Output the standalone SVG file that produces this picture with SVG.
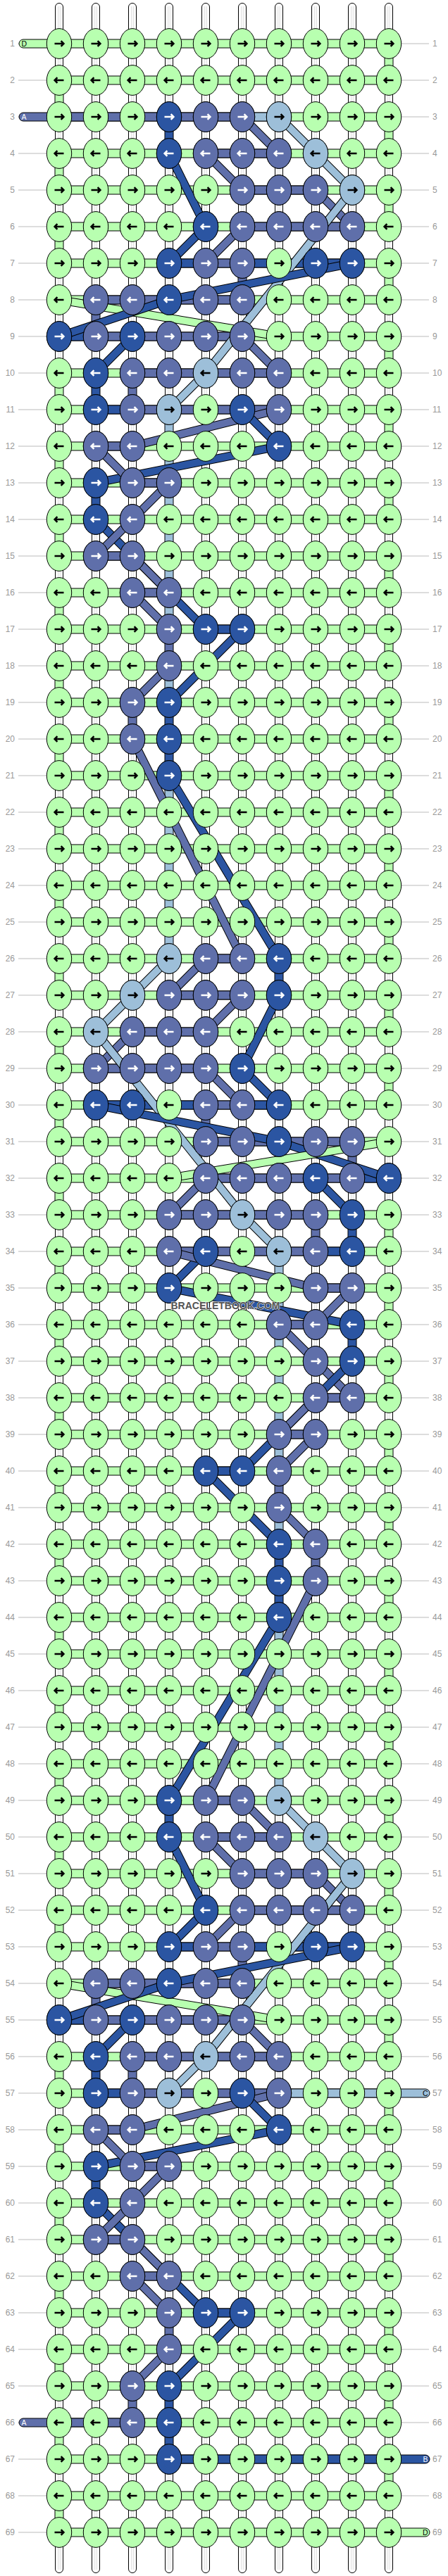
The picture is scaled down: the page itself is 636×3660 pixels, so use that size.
<svg xmlns="http://www.w3.org/2000/svg" width="636" height="3660" viewBox="0 0 636 3660">
<style>
.g{fill:#b8ffb0}.d{fill:#2b55a2}.m{fill:#5f6faa}.l{fill:#9dbfd9}
.o{stroke:#000;stroke-width:1}
.t{font-family:"Liberation Sans",Arial,sans-serif;font-size:12px;fill:#999}
.lb{font-family:"Liberation Sans",Arial,sans-serif;font-size:10.5px}
.k{fill:none;stroke:#000;stroke-width:12;stroke-linejoin:round}
.kd,.km,.kl,.kg{fill:none;stroke-width:10;stroke-linejoin:round}
.kd{stroke:#2b55a2}.km{stroke:#5f6faa}.kl{stroke:#9dbfd9}.kg{stroke:#b8ffb0}
</style>
<defs>
<ellipse id="e" rx="17.7" ry="21.4" stroke="#000" stroke-width="1"/>
<path id="a" d="M-6.5,0H6M2.6,-3.8L6.4,0L2.6,3.8" fill="none" stroke-width="2.5"/>
<path id="b" d="M6.5,0H-6M-2.6,-3.8L-6.4,0L-2.6,3.8" fill="none" stroke-width="2.5"/>
<g id="gR"><use href="#e" class="g"/><use href="#a" stroke="#000"/></g>
<g id="gL"><use href="#e" class="g"/><use href="#b" stroke="#000"/></g>
<g id="dR"><use href="#e" class="d"/><use href="#a" stroke="#fff"/></g>
<g id="dL"><use href="#e" class="d"/><use href="#b" stroke="#fff"/></g>
<g id="mR"><use href="#e" class="m"/><use href="#a" stroke="#fff"/></g>
<g id="mL"><use href="#e" class="m"/><use href="#b" stroke="#fff"/></g>
<g id="lR"><use href="#e" class="l"/><use href="#a" stroke="#000"/></g>
<g id="lL"><use href="#e" class="l"/><use href="#b" stroke="#000"/></g>
<g id="RR"><use href="#gR" x="84"/><use href="#gR" x="136"/><use href="#gR" x="188"/><use href="#gR" x="240"/><use href="#gR" x="292"/><use href="#gR" x="344"/><use href="#gR" x="396"/><use href="#gR" x="448"/><use href="#gR" x="500"/><use href="#gR" x="552"/></g>
<g id="RL"><use href="#gL" x="84"/><use href="#gL" x="136"/><use href="#gL" x="188"/><use href="#gL" x="240"/><use href="#gL" x="292"/><use href="#gL" x="344"/><use href="#gL" x="396"/><use href="#gL" x="448"/><use href="#gL" x="500"/><use href="#gL" x="552"/></g>
<rect id="hb" class="g o" x="84" y="-6" width="468" height="12"/>
<rect id="v" x="-6" y="0" width="12" height="52" stroke="#000" stroke-width="1"/>
</defs>
<rect width="636" height="3660" fill="#fff"/>
<path id="rowlines" fill="none" stroke="#bbb" stroke-width="1" d="M26,62h40M570,62h39M26,114h40M570,114h39M26,166h40M570,166h39M26,218h40M570,218h39M26,270h40M570,270h39M26,322h40M570,322h39M26,374h40M570,374h39M26,426h40M570,426h39M26,478h40M570,478h39M26,530h40M570,530h39M26,582h40M570,582h39M26,634h40M570,634h39M26,686h40M570,686h39M26,738h40M570,738h39M26,790h40M570,790h39M26,842h40M570,842h39M26,894h40M570,894h39M26,946h40M570,946h39M26,998h40M570,998h39M26,1050h40M570,1050h39M26,1102h40M570,1102h39M26,1154h40M570,1154h39M26,1206h40M570,1206h39M26,1258h40M570,1258h39M26,1310h40M570,1310h39M26,1362h40M570,1362h39M26,1414h40M570,1414h39M26,1466h40M570,1466h39M26,1518h40M570,1518h39M26,1570h40M570,1570h39M26,1622h40M570,1622h39M26,1674h40M570,1674h39M26,1726h40M570,1726h39M26,1778h40M570,1778h39M26,1830h40M570,1830h39M26,1882h40M570,1882h39M26,1934h40M570,1934h39M26,1986h40M570,1986h39M26,2038h40M570,2038h39M26,2090h40M570,2090h39M26,2142h40M570,2142h39M26,2194h40M570,2194h39M26,2246h40M570,2246h39M26,2298h40M570,2298h39M26,2350h40M570,2350h39M26,2402h40M570,2402h39M26,2454h40M570,2454h39M26,2506h40M570,2506h39M26,2558h40M570,2558h39M26,2610h40M570,2610h39M26,2662h40M570,2662h39M26,2714h40M570,2714h39M26,2766h40M570,2766h39M26,2818h40M570,2818h39M26,2870h40M570,2870h39M26,2922h40M570,2922h39M26,2974h40M570,2974h39M26,3026h40M570,3026h39M26,3078h40M570,3078h39M26,3130h40M570,3130h39M26,3182h40M570,3182h39M26,3234h40M570,3234h39M26,3286h40M570,3286h39M26,3338h40M570,3338h39M26,3390h40M570,3390h39M26,3442h40M570,3442h39M26,3494h40M570,3494h39M26,3546h40M570,3546h39M26,3598h40M570,3598h39"/>
<g id="warps" fill="#fff" stroke="#000" stroke-width="1">
<rect x="78.5" y="4.5" width="11" height="3651" rx="5.5"/><rect x="130.5" y="4.5" width="11" height="3651" rx="5.5"/><rect x="182.5" y="4.5" width="11" height="3651" rx="5.5"/><rect x="234.5" y="4.5" width="11" height="3651" rx="5.5"/><rect x="286.5" y="4.5" width="11" height="3651" rx="5.5"/><rect x="338.5" y="4.5" width="11" height="3651" rx="5.5"/><rect x="390.5" y="4.5" width="11" height="3651" rx="5.5"/><rect x="442.5" y="4.5" width="11" height="3651" rx="5.5"/><rect x="494.5" y="4.5" width="11" height="3651" rx="5.5"/><rect x="546.5" y="4.5" width="11" height="3651" rx="5.5"/>
<path fill="none" stroke="#dcdcdc" d="M82.7,9V3651M85.3,9V3651M134.7,9V3651M137.3,9V3651M186.7,9V3651M189.3,9V3651M238.7,9V3651M241.3,9V3651M290.7,9V3651M293.3,9V3651M342.7,9V3651M345.3,9V3651M394.7,9V3651M397.3,9V3651M446.7,9V3651M449.3,9V3651M498.7,9V3651M501.3,9V3651M550.7,9V3651M553.3,9V3651"/>
</g>
<g id="wefts-horizontal">
<use href="#hb" y="62"/><use href="#hb" y="114"/><use href="#hb" y="166"/><use href="#hb" y="218"/><use href="#hb" y="270"/><use href="#hb" y="322"/><use href="#hb" y="374"/><use href="#hb" y="426"/><use href="#hb" y="478"/><use href="#hb" y="530"/><use href="#hb" y="582"/><use href="#hb" y="634"/><use href="#hb" y="686"/><use href="#hb" y="738"/><use href="#hb" y="790"/><use href="#hb" y="842"/><use href="#hb" y="894"/><use href="#hb" y="946"/><use href="#hb" y="998"/><use href="#hb" y="1050"/><use href="#hb" y="1102"/><use href="#hb" y="1154"/><use href="#hb" y="1206"/><use href="#hb" y="1258"/><use href="#hb" y="1310"/><use href="#hb" y="1362"/><use href="#hb" y="1414"/><use href="#hb" y="1466"/><use href="#hb" y="1518"/><use href="#hb" y="1570"/><use href="#hb" y="1622"/><use href="#hb" y="1674"/><use href="#hb" y="1726"/><use href="#hb" y="1778"/><use href="#hb" y="1830"/><use href="#hb" y="1882"/><use href="#hb" y="1934"/><use href="#hb" y="1986"/><use href="#hb" y="2038"/><use href="#hb" y="2090"/><use href="#hb" y="2142"/><use href="#hb" y="2194"/><use href="#hb" y="2246"/><use href="#hb" y="2298"/><use href="#hb" y="2350"/><use href="#hb" y="2402"/><use href="#hb" y="2454"/><use href="#hb" y="2506"/><use href="#hb" y="2558"/><use href="#hb" y="2610"/><use href="#hb" y="2662"/><use href="#hb" y="2714"/><use href="#hb" y="2766"/><use href="#hb" y="2818"/><use href="#hb" y="2870"/><use href="#hb" y="2922"/><use href="#hb" y="2974"/><use href="#hb" y="3026"/><use href="#hb" y="3078"/><use href="#hb" y="3130"/><use href="#hb" y="3182"/><use href="#hb" y="3234"/><use href="#hb" y="3286"/><use href="#hb" y="3338"/><use href="#hb" y="3390"/><use href="#hb" y="3442"/><use href="#hb" y="3494"/><use href="#hb" y="3546"/><use href="#hb" y="3598"/>
<rect class="m o" x="84" y="160" width="260" height="12"/><rect class="l o" x="344" y="160" width="52" height="12"/>
<rect class="m o" x="292" y="212" width="104" height="12"/>
<rect class="m o" x="344" y="264" width="104" height="12"/>
<rect class="m o" x="344" y="316" width="156" height="12"/>
<rect class="d o" x="240" y="368" width="52" height="12"/><rect class="m o" x="292" y="368" width="52" height="12"/><rect class="d o" x="344" y="368" width="156" height="12"/>
<rect class="m o" x="136" y="420" width="208" height="12"/>
<rect class="d o" x="84" y="472" width="52" height="12"/><rect class="m o" x="136" y="472" width="208" height="12"/>
<rect class="m o" x="188" y="524" width="208" height="12"/>
<rect class="d o" x="136" y="576" width="52" height="12"/><rect class="m o" x="188" y="576" width="208" height="12"/>
<rect class="m o" x="136" y="628" width="52" height="12"/>
<rect class="m o" x="188" y="680" width="52" height="12"/>
<rect class="m o" x="136" y="784" width="52" height="12"/>
<rect class="m o" x="188" y="836" width="52" height="12"/>
<rect class="d o" x="292" y="888" width="52" height="12"/>
<rect class="m o" x="292" y="1356" width="52" height="12"/>
<rect class="m o" x="240" y="1408" width="104" height="12"/>
<rect class="m o" x="188" y="1460" width="104" height="12"/>
<rect class="m o" x="136" y="1512" width="156" height="12"/>
<rect class="d o" x="136" y="1564" width="156" height="12"/><rect class="m o" x="292" y="1564" width="52" height="12"/><rect class="d o" x="344" y="1564" width="52" height="12"/>
<rect class="m o" x="292" y="1616" width="208" height="12"/>
<rect class="m o" x="292" y="1668" width="208" height="12"/><rect class="d o" x="500" y="1668" width="52" height="12"/>
<rect class="m o" x="240" y="1720" width="208" height="12"/>
<rect class="m o" x="240" y="1772" width="208" height="12"/><rect class="d o" x="448" y="1772" width="52" height="12"/>
<rect class="m o" x="448" y="1824" width="52" height="12"/>
<rect class="m o" x="396" y="1876" width="52" height="12"/>
<rect class="m o" x="448" y="1980" width="52" height="12"/>
<rect class="m o" x="396" y="2032" width="52" height="12"/>
<rect class="d o" x="292" y="2084" width="52" height="12"/>
<rect class="m o" x="292" y="2552" width="52" height="12"/>
<rect class="m o" x="292" y="2604" width="104" height="12"/>
<rect class="m o" x="344" y="2656" width="104" height="12"/>
<rect class="m o" x="344" y="2708" width="156" height="12"/>
<rect class="d o" x="240" y="2760" width="52" height="12"/><rect class="m o" x="292" y="2760" width="52" height="12"/><rect class="d o" x="344" y="2760" width="156" height="12"/>
<rect class="m o" x="136" y="2812" width="208" height="12"/>
<rect class="d o" x="84" y="2864" width="52" height="12"/><rect class="m o" x="136" y="2864" width="208" height="12"/>
<rect class="m o" x="188" y="2916" width="208" height="12"/>
<rect class="d o" x="136" y="2968" width="52" height="12"/><rect class="m o" x="188" y="2968" width="208" height="12"/><rect class="l o" x="396" y="2968" width="156" height="12"/>
<rect class="m o" x="136" y="3020" width="52" height="12"/>
<rect class="m o" x="188" y="3072" width="52" height="12"/>
<rect class="m o" x="136" y="3176" width="52" height="12"/>
<rect class="m o" x="188" y="3228" width="52" height="12"/>
<rect class="d o" x="292" y="3280" width="52" height="12"/>
<rect class="m o" x="84" y="3436" width="104" height="12"/>
<rect class="d o" x="240" y="3488" width="312" height="12"/>
</g>
<g id="string-ends">
<rect class="g o" x="27" y="56" width="62" height="12" rx="6"/>
<rect class="m o" x="27" y="160" width="62" height="12" rx="6"/>
<rect class="m o" x="27" y="3436" width="62" height="12" rx="6"/>
<rect class="l o" x="547" y="2968" width="63" height="12" rx="6"/>
<rect class="d o" x="547" y="3488" width="63" height="12" rx="6"/>
<rect class="g o" x="547" y="3592" width="63" height="12" rx="6"/>
</g>
<g id="wefts-vertical">
<use href="#v" class="g" x="552" y="62"/><use href="#v" class="g" x="84" y="114"/><use href="#v" class="g" x="552" y="166"/><use href="#v" class="g" x="84" y="218"/><use href="#v" class="g" x="552" y="270"/><use href="#v" class="g" x="84" y="322"/><use href="#v" class="g" x="552" y="374"/><use href="#v" class="g" x="552" y="478"/><use href="#v" class="g" x="84" y="530"/><use href="#v" class="g" x="552" y="582"/><use href="#v" class="g" x="84" y="634"/><use href="#v" class="g" x="552" y="686"/><use href="#v" class="g" x="84" y="738"/><use href="#v" class="g" x="552" y="790"/><use href="#v" class="g" x="84" y="842"/><use href="#v" class="g" x="552" y="894"/><use href="#v" class="g" x="84" y="946"/><use href="#v" class="g" x="552" y="998"/><use href="#v" class="g" x="84" y="1050"/><use href="#v" class="g" x="552" y="1102"/><use href="#v" class="g" x="84" y="1154"/><use href="#v" class="g" x="552" y="1206"/><use href="#v" class="g" x="84" y="1258"/><use href="#v" class="g" x="552" y="1310"/><use href="#v" class="g" x="84" y="1362"/><use href="#v" class="g" x="552" y="1414"/><use href="#v" class="g" x="84" y="1466"/><use href="#v" class="g" x="552" y="1518"/><use href="#v" class="g" x="84" y="1570"/><use href="#v" class="g" x="84" y="1674"/><use href="#v" class="g" x="552" y="1726"/><use href="#v" class="g" x="84" y="1778"/><use href="#v" class="g" x="552" y="1830"/><use href="#v" class="g" x="84" y="1882"/><use href="#v" class="g" x="552" y="1934"/><use href="#v" class="g" x="84" y="1986"/><use href="#v" class="g" x="552" y="2038"/><use href="#v" class="g" x="84" y="2090"/><use href="#v" class="g" x="552" y="2142"/><use href="#v" class="g" x="84" y="2194"/><use href="#v" class="g" x="552" y="2246"/><use href="#v" class="g" x="84" y="2298"/><use href="#v" class="g" x="552" y="2350"/><use href="#v" class="g" x="84" y="2402"/><use href="#v" class="g" x="552" y="2454"/><use href="#v" class="g" x="84" y="2506"/><use href="#v" class="g" x="552" y="2558"/><use href="#v" class="g" x="84" y="2610"/><use href="#v" class="g" x="552" y="2662"/><use href="#v" class="g" x="84" y="2714"/><use href="#v" class="g" x="552" y="2766"/><use href="#v" class="g" x="552" y="2870"/><use href="#v" class="g" x="84" y="2922"/><use href="#v" class="g" x="552" y="2974"/><use href="#v" class="g" x="84" y="3026"/><use href="#v" class="g" x="552" y="3078"/><use href="#v" class="g" x="84" y="3130"/><use href="#v" class="g" x="552" y="3182"/><use href="#v" class="g" x="84" y="3234"/><use href="#v" class="g" x="552" y="3286"/><use href="#v" class="g" x="84" y="3338"/><use href="#v" class="g" x="552" y="3390"/><use href="#v" class="g" x="84" y="3442"/><use href="#v" class="g" x="552" y="3494"/><use href="#v" class="g" x="84" y="3546"/>
<use href="#v" class="d" x="240" y="166"/>
<use href="#v" class="m" x="344" y="374"/>
<use href="#v" class="m" x="136" y="426"/>
<use href="#v" class="d" x="136" y="530"/><use href="#v" class="m" x="188" y="530"/>
<rect class="l o" x="234" y="582" width="12" height="312"/>
<use href="#v" class="d" x="136" y="686"/>
<use href="#v" class="m" x="240" y="894"/>
<use href="#v" class="l" x="240" y="946"/>
<use href="#v" class="m" x="188" y="998"/><use href="#v" class="d" x="240" y="998"/>
<use href="#v" class="d" x="240" y="1050"/>
<rect class="l o" x="234" y="1102" width="12" height="260"/>
<use href="#v" class="d" x="396" y="1362"/>
<use href="#v" class="m" x="292" y="1570"/>
<use href="#v" class="m" x="500" y="1622"/>
<use href="#v" class="m" x="448" y="1726"/><use href="#v" class="d" x="500" y="1726"/>
<rect class="l o" x="390" y="1778" width="12" height="312"/>
<use href="#v" class="d" x="500" y="1882"/>
<use href="#v" class="m" x="396" y="2090"/>
<use href="#v" class="l" x="396" y="2142"/>
<rect class="d o" x="390" y="2194" width="12" height="104"/>
<use href="#v" class="m" x="448" y="2194"/>
<rect class="l o" x="390" y="2298" width="12" height="260"/>
<use href="#v" class="d" x="240" y="2558"/>
<use href="#v" class="m" x="344" y="2766"/>
<use href="#v" class="m" x="136" y="2818"/>
<use href="#v" class="d" x="136" y="2922"/><use href="#v" class="m" x="188" y="2922"/>
<use href="#v" class="d" x="136" y="3078"/>
<use href="#v" class="m" x="240" y="3286"/>
<use href="#v" class="m" x="188" y="3390"/><use href="#v" class="d" x="240" y="3390"/>
<use href="#v" class="d" x="240" y="3442"/>
</g>
<g id="connectors">
<path class="k" d="M344,166L396,218"/><path class="km" d="M344,166L396,218"/>
<path class="k" d="M396,166L448,218"/><path class="kl" d="M396,166L448,218"/>
<path class="k" d="M240,218L292,322"/><path class="kd" d="M240,218L292,322"/>
<path class="k" d="M292,218L344,270"/><path class="km" d="M292,218L344,270"/>
<path class="k" d="M448,218L500,270"/><path class="kl" d="M448,218L500,270"/>
<path class="k" d="M448,270L500,322"/><path class="km" d="M448,270L500,322"/>
<path class="k" d="M500,270L292,530"/><path class="kl" d="M500,270L292,530"/>
<path class="k" d="M292,322L240,374"/><path class="kd" d="M292,322L240,374"/>
<path class="k" d="M344,322L292,374"/><path class="km" d="M344,322L292,374"/>
<path class="k" d="M84,426L396,478"/><path class="kg" d="M84,426L396,478"/>
<path class="k" d="M500,374L240,426L84,478"/><path class="kd" d="M500,374L240,426L84,478"/>
<path class="k" d="M188,478L136,530"/><path class="kd" d="M188,478L136,530"/>
<path class="k" d="M344,478L396,530"/><path class="km" d="M344,478L396,530"/>
<path class="k" d="M292,530L240,582"/><path class="kl" d="M292,530L240,582"/>
<path class="k" d="M396,582L188,634"/><path class="km" d="M396,582L188,634"/>
<path class="k" d="M344,582L396,634"/><path class="kd" d="M344,582L396,634"/>
<path class="k" d="M396,634L136,686"/><path class="kd" d="M396,634L136,686"/>
<path class="k" d="M136,634L188,686"/><path class="km" d="M136,634L188,686"/>
<path class="k" d="M240,686L188,738"/><path class="km" d="M240,686L188,738"/>
<path class="k" d="M136,738L292,894"/><path class="kd" d="M136,738L292,894"/>
<path class="k" d="M188,738L136,790"/><path class="km" d="M188,738L136,790"/>
<path class="k" d="M188,790L240,842"/><path class="km" d="M188,790L240,842"/>
<path class="k" d="M188,842L240,894"/><path class="km" d="M188,842L240,894"/>
<path class="k" d="M344,894L240,998"/><path class="kd" d="M344,894L240,998"/>
<path class="k" d="M240,946L188,998"/><path class="km" d="M240,946L188,998"/>
<path class="k" d="M188,1050L344,1362"/><path class="km" d="M188,1050L344,1362"/>
<path class="k" d="M240,1102L396,1362"/><path class="kd" d="M240,1102L396,1362"/>
<path class="k" d="M240,1362L188,1414"/><path class="kl" d="M240,1362L188,1414"/>
<path class="k" d="M292,1362L240,1414"/><path class="km" d="M292,1362L240,1414"/>
<path class="k" d="M188,1414L136,1466"/><path class="kl" d="M188,1414L136,1466"/>
<path class="k" d="M344,1414L292,1466"/><path class="km" d="M344,1414L292,1466"/>
<path class="k" d="M396,1414L344,1518"/><path class="kd" d="M396,1414L344,1518"/>
<path class="k" d="M188,1466L136,1518"/><path class="km" d="M188,1466L136,1518"/>
<path class="k" d="M136,1466L344,1726"/><path class="kl" d="M136,1466L344,1726"/>
<path class="k" d="M292,1518L344,1570"/><path class="km" d="M292,1518L344,1570"/>
<path class="k" d="M344,1518L396,1570"/><path class="kd" d="M344,1518L396,1570"/>
<path class="k" d="M136,1570L396,1622"/><path class="kd" d="M136,1570L396,1622"/>
<path class="k" d="M396,1622L552,1674"/><path class="kd" d="M396,1622L552,1674"/>
<path class="k" d="M552,1622L240,1674"/><path class="kg" d="M552,1622L240,1674"/>
<path class="k" d="M292,1674L240,1726"/><path class="km" d="M292,1674L240,1726"/>
<path class="k" d="M448,1674L500,1726"/><path class="kd" d="M448,1674L500,1726"/>
<path class="k" d="M344,1726L396,1778"/><path class="kl" d="M344,1726L396,1778"/>
<path class="k" d="M292,1778L240,1830"/><path class="kd" d="M292,1778L240,1830"/>
<path class="k" d="M240,1778L448,1830"/><path class="km" d="M240,1778L448,1830"/>
<path class="k" d="M240,1830L500,1882"/><path class="kd" d="M240,1830L500,1882"/>
<path class="k" d="M500,1830L448,1882"/><path class="km" d="M500,1830L448,1882"/>
<path class="k" d="M396,1882L448,1934"/><path class="km" d="M396,1882L448,1934"/>
<path class="k" d="M448,1934L500,1986"/><path class="km" d="M448,1934L500,1986"/>
<path class="k" d="M500,1934L344,2090"/><path class="kd" d="M500,1934L344,2090"/>
<path class="k" d="M448,1986L396,2038"/><path class="km" d="M448,1986L396,2038"/>
<path class="k" d="M448,2038L396,2090"/><path class="km" d="M448,2038L396,2090"/>
<path class="k" d="M292,2090L396,2194"/><path class="kd" d="M292,2090L396,2194"/>
<path class="k" d="M396,2142L448,2194"/><path class="km" d="M396,2142L448,2194"/>
<path class="k" d="M448,2246L292,2558"/><path class="km" d="M448,2246L292,2558"/>
<path class="k" d="M396,2298L240,2558"/><path class="kd" d="M396,2298L240,2558"/>
<path class="k" d="M344,2558L396,2610"/><path class="km" d="M344,2558L396,2610"/>
<path class="k" d="M396,2558L448,2610"/><path class="kl" d="M396,2558L448,2610"/>
<path class="k" d="M240,2610L292,2714"/><path class="kd" d="M240,2610L292,2714"/>
<path class="k" d="M292,2610L344,2662"/><path class="km" d="M292,2610L344,2662"/>
<path class="k" d="M448,2610L500,2662"/><path class="kl" d="M448,2610L500,2662"/>
<path class="k" d="M448,2662L500,2714"/><path class="km" d="M448,2662L500,2714"/>
<path class="k" d="M500,2662L292,2922"/><path class="kl" d="M500,2662L292,2922"/>
<path class="k" d="M292,2714L240,2766"/><path class="kd" d="M292,2714L240,2766"/>
<path class="k" d="M344,2714L292,2766"/><path class="km" d="M344,2714L292,2766"/>
<path class="k" d="M84,2818L396,2870"/><path class="kg" d="M84,2818L396,2870"/>
<path class="k" d="M500,2766L240,2818L84,2870"/><path class="kd" d="M500,2766L240,2818L84,2870"/>
<path class="k" d="M188,2870L136,2922"/><path class="kd" d="M188,2870L136,2922"/>
<path class="k" d="M344,2870L396,2922"/><path class="km" d="M344,2870L396,2922"/>
<path class="k" d="M292,2922L240,2974"/><path class="kl" d="M292,2922L240,2974"/>
<path class="k" d="M396,2974L188,3026"/><path class="km" d="M396,2974L188,3026"/>
<path class="k" d="M344,2974L396,3026"/><path class="kd" d="M344,2974L396,3026"/>
<path class="k" d="M396,3026L136,3078"/><path class="kd" d="M396,3026L136,3078"/>
<path class="k" d="M136,3026L188,3078"/><path class="km" d="M136,3026L188,3078"/>
<path class="k" d="M240,3078L188,3130"/><path class="km" d="M240,3078L188,3130"/>
<path class="k" d="M136,3130L292,3286"/><path class="kd" d="M136,3130L292,3286"/>
<path class="k" d="M188,3130L136,3182"/><path class="km" d="M188,3130L136,3182"/>
<path class="k" d="M188,3182L240,3234"/><path class="km" d="M188,3182L240,3234"/>
<path class="k" d="M188,3234L240,3286"/><path class="km" d="M188,3234L240,3286"/>
<path class="k" d="M344,3286L240,3390"/><path class="kd" d="M344,3286L240,3390"/>
<path class="k" d="M240,3338L188,3390"/><path class="km" d="M240,3338L188,3390"/>
</g>
<g id="knots">
<g id="row1" transform="translate(0,62)"><use href="#RR"/></g>
<g id="row2" transform="translate(0,114)"><use href="#RL"/></g>
<g id="row3" transform="translate(0,166)"><use href="#RR"/><use href="#dR" x="240"/><use href="#mR" x="292"/><use href="#mR" x="344"/><use href="#lR" x="396"/></g>
<g id="row4" transform="translate(0,218)"><use href="#RL"/><use href="#dL" x="240"/><use href="#mL" x="292"/><use href="#mL" x="344"/><use href="#mL" x="396"/><use href="#lL" x="448"/></g>
<g id="row5" transform="translate(0,270)"><use href="#RR"/><use href="#mR" x="344"/><use href="#mR" x="396"/><use href="#mR" x="448"/><use href="#lR" x="500"/></g>
<g id="row6" transform="translate(0,322)"><use href="#RL"/><use href="#dL" x="292"/><use href="#mL" x="344"/><use href="#mL" x="396"/><use href="#mL" x="448"/><use href="#mL" x="500"/></g>
<g id="row7" transform="translate(0,374)"><use href="#RR"/><use href="#dR" x="240"/><use href="#mR" x="292"/><use href="#mR" x="344"/><use href="#dR" x="448"/><use href="#dR" x="500"/></g>
<g id="row8" transform="translate(0,426)"><use href="#RL"/><use href="#mL" x="136"/><use href="#mL" x="188"/><use href="#dL" x="240"/><use href="#mL" x="292"/><use href="#mL" x="344"/></g>
<g id="row9" transform="translate(0,478)"><use href="#RR"/><use href="#dR" x="84"/><use href="#mR" x="136"/><use href="#dR" x="188"/><use href="#mR" x="240"/><use href="#mR" x="292"/><use href="#mR" x="344"/></g>
<g id="row10" transform="translate(0,530)"><use href="#RL"/><use href="#dL" x="136"/><use href="#mL" x="188"/><use href="#mL" x="240"/><use href="#lL" x="292"/><use href="#mL" x="344"/><use href="#mL" x="396"/></g>
<g id="row11" transform="translate(0,582)"><use href="#RR"/><use href="#dR" x="136"/><use href="#mR" x="188"/><use href="#lR" x="240"/><use href="#dR" x="344"/><use href="#mR" x="396"/></g>
<g id="row12" transform="translate(0,634)"><use href="#RL"/><use href="#mL" x="136"/><use href="#mL" x="188"/><use href="#dL" x="396"/></g>
<g id="row13" transform="translate(0,686)"><use href="#RR"/><use href="#dR" x="136"/><use href="#mR" x="188"/><use href="#mR" x="240"/></g>
<g id="row14" transform="translate(0,738)"><use href="#RL"/><use href="#dL" x="136"/><use href="#mL" x="188"/></g>
<g id="row15" transform="translate(0,790)"><use href="#RR"/><use href="#mR" x="136"/><use href="#mR" x="188"/></g>
<g id="row16" transform="translate(0,842)"><use href="#RL"/><use href="#mL" x="188"/><use href="#mL" x="240"/></g>
<g id="row17" transform="translate(0,894)"><use href="#RR"/><use href="#mR" x="240"/><use href="#dR" x="292"/><use href="#dR" x="344"/></g>
<g id="row18" transform="translate(0,946)"><use href="#RL"/><use href="#mL" x="240"/></g>
<g id="row19" transform="translate(0,998)"><use href="#RR"/><use href="#mR" x="188"/><use href="#dR" x="240"/></g>
<g id="row20" transform="translate(0,1050)"><use href="#RL"/><use href="#mL" x="188"/><use href="#dL" x="240"/></g>
<g id="row21" transform="translate(0,1102)"><use href="#RR"/><use href="#dR" x="240"/></g>
<g id="row22" transform="translate(0,1154)"><use href="#RL"/></g>
<g id="row23" transform="translate(0,1206)"><use href="#RR"/></g>
<g id="row24" transform="translate(0,1258)"><use href="#RL"/></g>
<g id="row25" transform="translate(0,1310)"><use href="#RR"/></g>
<g id="row26" transform="translate(0,1362)"><use href="#RL"/><use href="#lL" x="240"/><use href="#mL" x="292"/><use href="#mL" x="344"/><use href="#dL" x="396"/></g>
<g id="row27" transform="translate(0,1414)"><use href="#RR"/><use href="#lR" x="188"/><use href="#mR" x="240"/><use href="#mR" x="292"/><use href="#mR" x="344"/><use href="#dR" x="396"/></g>
<g id="row28" transform="translate(0,1466)"><use href="#RL"/><use href="#lL" x="136"/><use href="#mL" x="188"/><use href="#mL" x="240"/><use href="#mL" x="292"/></g>
<g id="row29" transform="translate(0,1518)"><use href="#RR"/><use href="#mR" x="136"/><use href="#mR" x="188"/><use href="#mR" x="240"/><use href="#mR" x="292"/><use href="#dR" x="344"/></g>
<g id="row30" transform="translate(0,1570)"><use href="#RL"/><use href="#dL" x="136"/><use href="#dL" x="188"/><use href="#mL" x="292"/><use href="#mL" x="344"/><use href="#dL" x="396"/></g>
<g id="row31" transform="translate(0,1622)"><use href="#RR"/><use href="#mR" x="292"/><use href="#mR" x="344"/><use href="#dR" x="396"/><use href="#mR" x="448"/><use href="#mR" x="500"/></g>
<g id="row32" transform="translate(0,1674)"><use href="#RL"/><use href="#mL" x="292"/><use href="#mL" x="344"/><use href="#mL" x="396"/><use href="#dL" x="448"/><use href="#mL" x="500"/><use href="#dL" x="552"/></g>
<g id="row33" transform="translate(0,1726)"><use href="#RR"/><use href="#mR" x="240"/><use href="#mR" x="292"/><use href="#lR" x="344"/><use href="#mR" x="396"/><use href="#mR" x="448"/><use href="#dR" x="500"/></g>
<g id="row34" transform="translate(0,1778)"><use href="#RL"/><use href="#mL" x="240"/><use href="#dL" x="292"/><use href="#lL" x="396"/><use href="#mL" x="448"/><use href="#dL" x="500"/></g>
<g id="row35" transform="translate(0,1830)"><use href="#RR"/><use href="#dR" x="240"/><use href="#mR" x="448"/><use href="#mR" x="500"/></g>
<g id="row36" transform="translate(0,1882)"><use href="#RL"/><use href="#mL" x="396"/><use href="#mL" x="448"/><use href="#dL" x="500"/></g>
<g id="row37" transform="translate(0,1934)"><use href="#RR"/><use href="#mR" x="448"/><use href="#dR" x="500"/></g>
<g id="row38" transform="translate(0,1986)"><use href="#RL"/><use href="#mL" x="448"/><use href="#mL" x="500"/></g>
<g id="row39" transform="translate(0,2038)"><use href="#RR"/><use href="#mR" x="396"/><use href="#mR" x="448"/></g>
<g id="row40" transform="translate(0,2090)"><use href="#RL"/><use href="#dL" x="292"/><use href="#dL" x="344"/><use href="#mL" x="396"/></g>
<g id="row41" transform="translate(0,2142)"><use href="#RR"/><use href="#mR" x="396"/></g>
<g id="row42" transform="translate(0,2194)"><use href="#RL"/><use href="#dL" x="396"/><use href="#mL" x="448"/></g>
<g id="row43" transform="translate(0,2246)"><use href="#RR"/><use href="#dR" x="396"/><use href="#mR" x="448"/></g>
<g id="row44" transform="translate(0,2298)"><use href="#RL"/><use href="#dL" x="396"/></g>
<g id="row45" transform="translate(0,2350)"><use href="#RR"/></g>
<g id="row46" transform="translate(0,2402)"><use href="#RL"/></g>
<g id="row47" transform="translate(0,2454)"><use href="#RR"/></g>
<g id="row48" transform="translate(0,2506)"><use href="#RL"/></g>
<g id="row49" transform="translate(0,2558)"><use href="#RR"/><use href="#dR" x="240"/><use href="#mR" x="292"/><use href="#mR" x="344"/><use href="#lR" x="396"/></g>
<g id="row50" transform="translate(0,2610)"><use href="#RL"/><use href="#dL" x="240"/><use href="#mL" x="292"/><use href="#mL" x="344"/><use href="#mL" x="396"/><use href="#lL" x="448"/></g>
<g id="row51" transform="translate(0,2662)"><use href="#RR"/><use href="#mR" x="344"/><use href="#mR" x="396"/><use href="#mR" x="448"/><use href="#lR" x="500"/></g>
<g id="row52" transform="translate(0,2714)"><use href="#RL"/><use href="#dL" x="292"/><use href="#mL" x="344"/><use href="#mL" x="396"/><use href="#mL" x="448"/><use href="#mL" x="500"/></g>
<g id="row53" transform="translate(0,2766)"><use href="#RR"/><use href="#dR" x="240"/><use href="#mR" x="292"/><use href="#mR" x="344"/><use href="#dR" x="448"/><use href="#dR" x="500"/></g>
<g id="row54" transform="translate(0,2818)"><use href="#RL"/><use href="#mL" x="136"/><use href="#mL" x="188"/><use href="#dL" x="240"/><use href="#mL" x="292"/><use href="#mL" x="344"/></g>
<g id="row55" transform="translate(0,2870)"><use href="#RR"/><use href="#dR" x="84"/><use href="#mR" x="136"/><use href="#dR" x="188"/><use href="#mR" x="240"/><use href="#mR" x="292"/><use href="#mR" x="344"/></g>
<g id="row56" transform="translate(0,2922)"><use href="#RL"/><use href="#dL" x="136"/><use href="#mL" x="188"/><use href="#mL" x="240"/><use href="#lL" x="292"/><use href="#mL" x="344"/><use href="#mL" x="396"/></g>
<g id="row57" transform="translate(0,2974)"><use href="#RR"/><use href="#dR" x="136"/><use href="#mR" x="188"/><use href="#lR" x="240"/><use href="#dR" x="344"/><use href="#mR" x="396"/></g>
<g id="row58" transform="translate(0,3026)"><use href="#RL"/><use href="#mL" x="136"/><use href="#mL" x="188"/><use href="#dL" x="396"/></g>
<g id="row59" transform="translate(0,3078)"><use href="#RR"/><use href="#dR" x="136"/><use href="#mR" x="188"/><use href="#mR" x="240"/></g>
<g id="row60" transform="translate(0,3130)"><use href="#RL"/><use href="#dL" x="136"/><use href="#mL" x="188"/></g>
<g id="row61" transform="translate(0,3182)"><use href="#RR"/><use href="#mR" x="136"/><use href="#mR" x="188"/></g>
<g id="row62" transform="translate(0,3234)"><use href="#RL"/><use href="#mL" x="188"/><use href="#mL" x="240"/></g>
<g id="row63" transform="translate(0,3286)"><use href="#RR"/><use href="#mR" x="240"/><use href="#dR" x="292"/><use href="#dR" x="344"/></g>
<g id="row64" transform="translate(0,3338)"><use href="#RL"/><use href="#mL" x="240"/></g>
<g id="row65" transform="translate(0,3390)"><use href="#RR"/><use href="#mR" x="188"/><use href="#dR" x="240"/></g>
<g id="row66" transform="translate(0,3442)"><use href="#RL"/><use href="#mL" x="188"/><use href="#dL" x="240"/></g>
<g id="row67" transform="translate(0,3494)"><use href="#RR"/><use href="#dR" x="240"/></g>
<g id="row68" transform="translate(0,3546)"><use href="#RL"/></g>
<g id="row69" transform="translate(0,3598)"><use href="#RR"/></g>
</g>
<g id="end-labels" class="lb">
<text x="30.5" y="66" fill="#000">D</text>
<text x="30.5" y="170" fill="#fff">A</text>
<text x="30.5" y="3446" fill="#fff">A</text>
<text x="607.5" y="2978" fill="#000" text-anchor="end">C</text>
<text x="607.5" y="3498" fill="#fff" text-anchor="end">B</text>
<text x="607.5" y="3602" fill="#000" text-anchor="end">D</text>
</g>
<g id="numbers-left" class="t" text-anchor="end">
<text x="21" y="66">1</text><text x="21" y="118">2</text><text x="21" y="170">3</text><text x="21" y="222">4</text><text x="21" y="274">5</text><text x="21" y="326">6</text><text x="21" y="378">7</text><text x="21" y="430">8</text><text x="21" y="482">9</text><text x="21" y="534">10</text><text x="21" y="586">11</text><text x="21" y="638">12</text><text x="21" y="690">13</text><text x="21" y="742">14</text><text x="21" y="794">15</text><text x="21" y="846">16</text><text x="21" y="898">17</text><text x="21" y="950">18</text><text x="21" y="1002">19</text><text x="21" y="1054">20</text><text x="21" y="1106">21</text><text x="21" y="1158">22</text><text x="21" y="1210">23</text><text x="21" y="1262">24</text><text x="21" y="1314">25</text><text x="21" y="1366">26</text><text x="21" y="1418">27</text><text x="21" y="1470">28</text><text x="21" y="1522">29</text><text x="21" y="1574">30</text><text x="21" y="1626">31</text><text x="21" y="1678">32</text><text x="21" y="1730">33</text><text x="21" y="1782">34</text><text x="21" y="1834">35</text><text x="21" y="1886">36</text><text x="21" y="1938">37</text><text x="21" y="1990">38</text><text x="21" y="2042">39</text><text x="21" y="2094">40</text><text x="21" y="2146">41</text><text x="21" y="2198">42</text><text x="21" y="2250">43</text><text x="21" y="2302">44</text><text x="21" y="2354">45</text><text x="21" y="2406">46</text><text x="21" y="2458">47</text><text x="21" y="2510">48</text><text x="21" y="2562">49</text><text x="21" y="2614">50</text><text x="21" y="2666">51</text><text x="21" y="2718">52</text><text x="21" y="2770">53</text><text x="21" y="2822">54</text><text x="21" y="2874">55</text><text x="21" y="2926">56</text><text x="21" y="2978">57</text><text x="21" y="3030">58</text><text x="21" y="3082">59</text><text x="21" y="3134">60</text><text x="21" y="3186">61</text><text x="21" y="3238">62</text><text x="21" y="3290">63</text><text x="21" y="3342">64</text><text x="21" y="3394">65</text><text x="21" y="3446">66</text><text x="21" y="3498">67</text><text x="21" y="3550">68</text><text x="21" y="3602">69</text>
</g>
<g id="numbers-right" class="t">
<text x="614" y="66">1</text><text x="614" y="118">2</text><text x="614" y="170">3</text><text x="614" y="222">4</text><text x="614" y="274">5</text><text x="614" y="326">6</text><text x="614" y="378">7</text><text x="614" y="430">8</text><text x="614" y="482">9</text><text x="614" y="534">10</text><text x="614" y="586">11</text><text x="614" y="638">12</text><text x="614" y="690">13</text><text x="614" y="742">14</text><text x="614" y="794">15</text><text x="614" y="846">16</text><text x="614" y="898">17</text><text x="614" y="950">18</text><text x="614" y="1002">19</text><text x="614" y="1054">20</text><text x="614" y="1106">21</text><text x="614" y="1158">22</text><text x="614" y="1210">23</text><text x="614" y="1262">24</text><text x="614" y="1314">25</text><text x="614" y="1366">26</text><text x="614" y="1418">27</text><text x="614" y="1470">28</text><text x="614" y="1522">29</text><text x="614" y="1574">30</text><text x="614" y="1626">31</text><text x="614" y="1678">32</text><text x="614" y="1730">33</text><text x="614" y="1782">34</text><text x="614" y="1834">35</text><text x="614" y="1886">36</text><text x="614" y="1938">37</text><text x="614" y="1990">38</text><text x="614" y="2042">39</text><text x="614" y="2094">40</text><text x="614" y="2146">41</text><text x="614" y="2198">42</text><text x="614" y="2250">43</text><text x="614" y="2302">44</text><text x="614" y="2354">45</text><text x="614" y="2406">46</text><text x="614" y="2458">47</text><text x="614" y="2510">48</text><text x="614" y="2562">49</text><text x="614" y="2614">50</text><text x="614" y="2666">51</text><text x="614" y="2718">52</text><text x="614" y="2770">53</text><text x="614" y="2822">54</text><text x="614" y="2874">55</text><text x="614" y="2926">56</text><text x="614" y="2978">57</text><text x="614" y="3030">58</text><text x="614" y="3082">59</text><text x="614" y="3134">60</text><text x="614" y="3186">61</text><text x="614" y="3238">62</text><text x="614" y="3290">63</text><text x="614" y="3342">64</text><text x="614" y="3394">65</text><text x="614" y="3446">66</text><text x="614" y="3498">67</text><text x="614" y="3550">68</text><text x="614" y="3602">69</text>
</g>
<text id="watermark" x="320" y="1860" text-anchor="middle" font-family="Liberation Sans, Arial, sans-serif" font-weight="bold" font-size="14.5" textLength="155" lengthAdjust="spacingAndGlyphs" fill="#555" stroke="#fff" stroke-width="1" paint-order="stroke">BRACELETBOOK.COM</text>
</svg>
